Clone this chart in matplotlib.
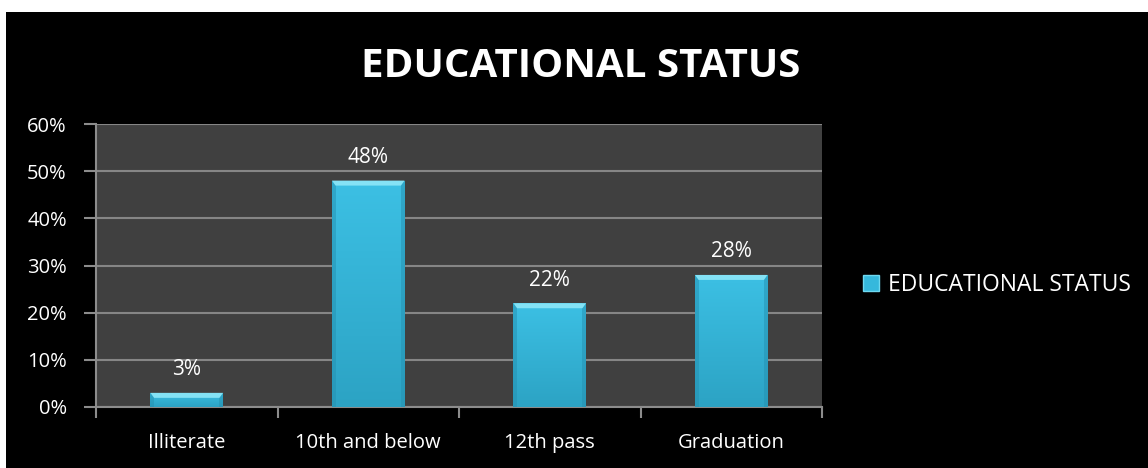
import matplotlib
matplotlib.use('Agg')
import matplotlib.pyplot as plt
import numpy as np
from matplotlib.patches import Rectangle, Polygon
from matplotlib.lines import Line2D

categories = ['Illiterate', '10th and below', '12th pass', 'Graduation']
values = [3, 48, 22, 28]
yticks = [0, 10, 20, 30, 40, 50, 60]
series_name = 'EDUCATIONAL STATUS'

plt.rcParams['font.family'] = ['Open Sans', 'DejaVu Sans']

fig = plt.figure(figsize=(11.48, 4.68), dpi=100, facecolor='white')
# black chart area, white strip along the top and left edge
fig.patches.append(Rectangle((6 / 1148, 0), 1, 1 - 12 / 468, transform=fig.transFigure,
                             facecolor='black', edgecolor='none', zorder=-5))

ax = fig.add_axes([96 / 1148, 61 / 468, 726 / 1148, 283 / 468])
ax.set_facecolor('#404040')

x = np.arange(len(categories))
width = 0.4
bar_main = '#35b8dc'
bars = ax.bar(x, values, width=width, color=bar_main, edgecolor='none', zorder=3)

# shading on each bar: vertical gradient, darker sides, lighter bevelled top
grad = np.linspace(0, 1, 256).reshape(-1, 1)
cmap = matplotlib.colors.LinearSegmentedColormap.from_list('bar', ['#2ca3c4', '#3cc0e4'])
px = 60 / 283  # data units per pixel vertically
for b, v in zip(bars, values):
    x0 = b.get_x()
    im = ax.imshow(grad, extent=(x0, x0 + width, 0, v), origin='lower', cmap=cmap,
                   aspect='auto', zorder=3.1)
    im.set_clip_path(b)
    side = width * 0.05
    ax.add_patch(Rectangle((x0, 0), side, v, facecolor='#2590b0', alpha=0.5,
                           edgecolor='none', zorder=3.2))
    ax.add_patch(Rectangle((x0 + width - side, 0), side, v, facecolor='#2590b0', alpha=0.5,
                           edgecolor='none', zorder=3.2))
    bev = min(5 * px, v * 0.45)
    ax.add_patch(Polygon([(x0, v), (x0 + width, v), (x0 + width - side, v - bev),
                          (x0 + side, v - bev)], closed=True, facecolor='#84e2f5',
                         edgecolor='none', zorder=3.3))
    ax.annotate(f'{v}%', (x0 + width / 2, v), xytext=(0, 9), textcoords='offset points',
                ha='center', va='bottom', color='white', fontsize=15)

ax.set_xlim(-0.5, len(categories) - 0.5)
ax.set_ylim(0, 60)
ax.set_yticks(yticks)
ax.set_yticklabels([f'{t}%' for t in yticks])
ax.set_xticks(np.arange(len(categories) + 1) - 0.5, minor=False)
ax.set_xticklabels([])
ax.set_xticks(x, minor=True)
ax.set_xticklabels(categories, minor=True)
ax.tick_params(axis='x', which='minor', length=0, pad=19, labelsize=14.5, labelcolor='white')
ax.tick_params(axis='x', which='major', length=8, width=1.5, color='#8c8c8c')
ax.tick_params(axis='y', length=9, width=1.5, color='#8c8c8c', pad=12,
               labelsize=14.5, labelcolor='white')

ax.grid(axis='y', color='#868686', linewidth=1.5, zorder=1)
ax.set_axisbelow(True)
for s in ['top', 'right']:
    ax.spines[s].set_visible(False)
for s in ['left', 'bottom']:
    ax.spines[s].set_color('#8c8c8c')
    ax.spines[s].set_linewidth(1.5)

fig.text(0.506, 1 - 67 / 468, series_name, ha='center', va='center', color='white',
         fontsize=29, fontweight='bold')

handle = Line2D([], [], marker='s', linestyle='none', markersize=11,
                markerfacecolor=bar_main, markeredgecolor='#6fd8f0')
fig.legend([handle], [series_name], loc='center left', bbox_to_anchor=(850 / 1148, 1 - 285 / 468),
           frameon=False, labelcolor='white', fontsize=16.5, handletextpad=0.25,
           borderaxespad=0, handlelength=1)

fig.savefig('out.png', dpi=100, facecolor='white')
